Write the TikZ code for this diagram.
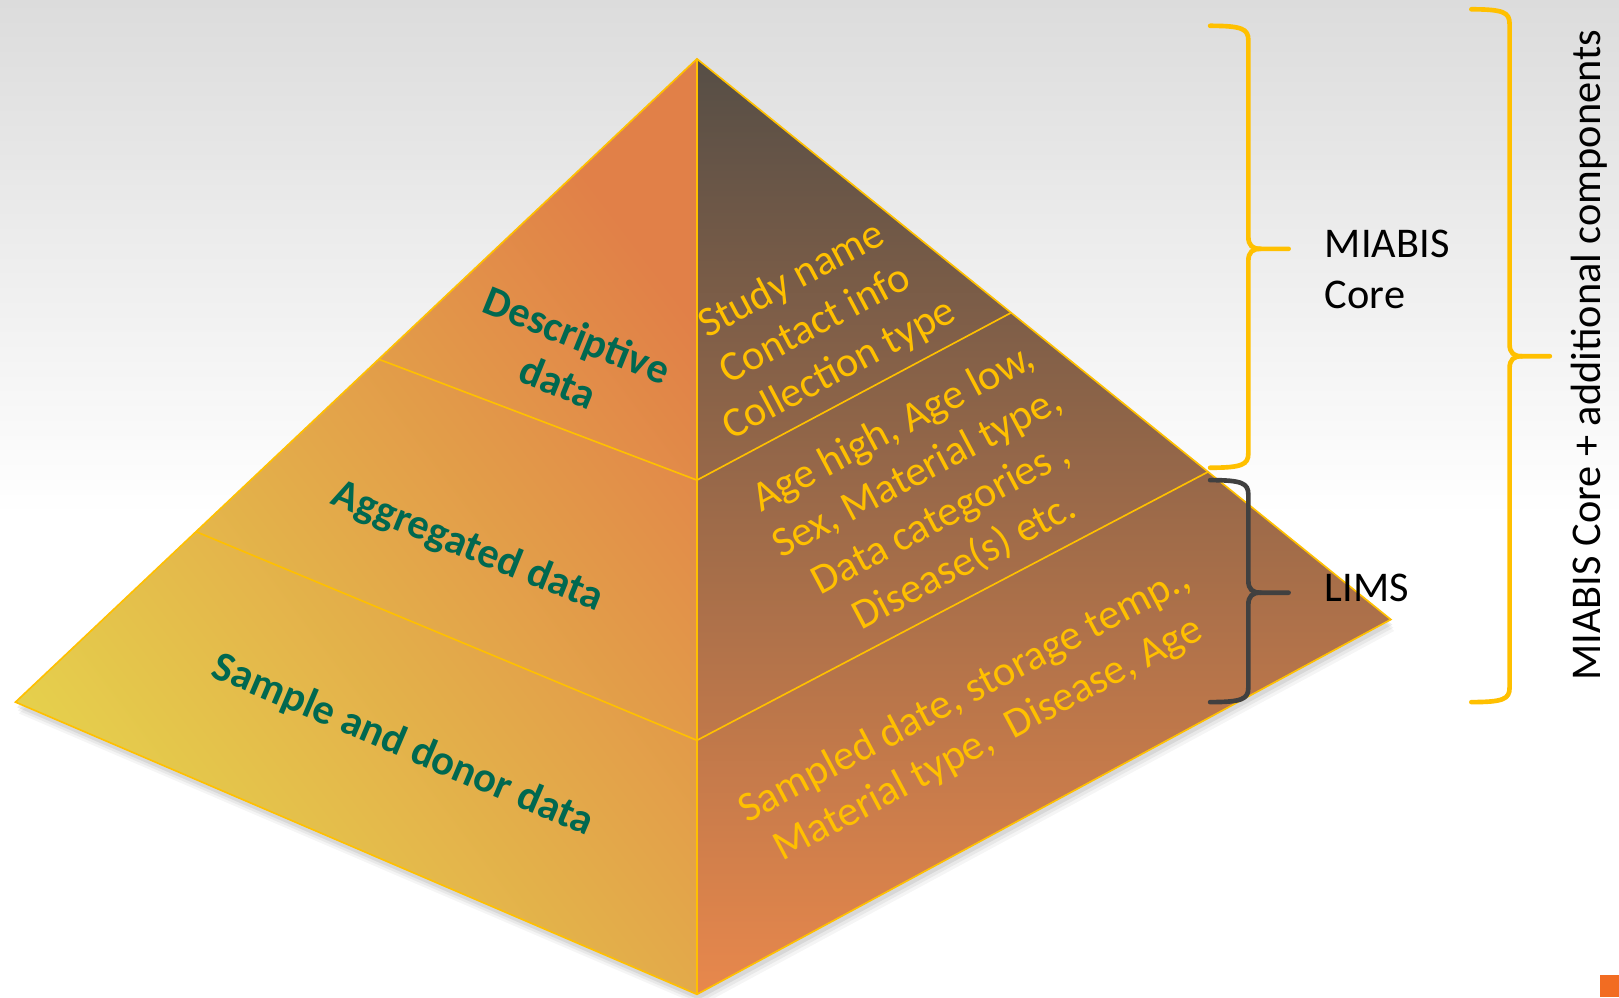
\documentclass[tikz,border=0pt]{standalone}
\usepackage{fontspec}
\setmainfont{Carlito}
\definecolor{mygold}{RGB}{255,192,0}
\definecolor{dkgreen}{RGB}{0,104,80}
\definecolor{leftY}{RGB}{229,210,76}
\definecolor{leftO}{RGB}{225,128,72}
\definecolor{rTop}{RGB}{86,78,70}
\definecolor{rMid}{RGB}{160,110,76}
\definecolor{rBot}{RGB}{232,136,76}
\definecolor{bgtop}{RGB}{220,220,220}
\definecolor{bracegray}{RGB}{64,64,64}
\definecolor{sqorange}{RGB}{242,108,34}
\newcommand{\mybrace}[7]{%
 \draw[#1] (#2,#5) .. controls ({#3-6},#5) and (#3,{#5+3}) .. (#3,{#5+14}) -- (#3,{#6-12}) .. controls (#3,{#6-3}) and ({#3+4},#6) .. ({#3+12},#6) -- (#4,#6);
 \draw[#1] ({#3+12},#6) .. controls ({#3+4},#6) and (#3,{#6+3}) .. (#3,{#6+12}) -- (#3,{#7-14}) .. controls (#3,{#7-3}) and ({#3-6},#7) .. (#2,#7);
}
\begin{document}
\begin{tikzpicture}[x=1pt,y=-1pt,
  edge/.style={draw=mygold, line width=1.6},
  lefttext/.style={font=\fontsize{41}{49}\selectfont\bfseries, text=dkgreen, align=center, inner sep=0},
  facetext/.style={font=\fontsize{41}{49}\selectfont, text=mygold, align=center, inner sep=0},
  sidelabel/.style={font=\fontsize{41}{49}\selectfont, text=black, align=left, inner sep=0},
  goldbrace/.style={draw=mygold, line width=4.5, line cap=round},
  darkbrace/.style={draw=bracegray, line width=4.5, line cap=round}]
\useasboundingbox (0,0) rectangle (1568,966);
% background
\fill[top color=bgtop, bottom color=white] (0,0) rectangle (1568,500);
\fill[white] (0,500) rectangle (1568,966);
% pyramid corners
\coordinate (A) at (675,57);
\coordinate (L) at (15,680);
\coordinate (B) at (675,963);
\coordinate (R) at (1347,600);
\coordinate (L1) at (367,348);
\coordinate (C1) at (675,465);
\coordinate (R1) at (979,303);
\coordinate (L2) at (190,515);
\coordinate (C2) at (675,717);
\coordinate (R2) at (1170,457);
% shadow
\foreach \s/\o in {11/0.04,8/0.05,5/0.07}
  \fill[black,opacity=\o] ({675+0.3*\s},{57+\s}) -- ({15+0.3*\s},{680+\s}) -- ({675+0.3*\s},{963+\s}) -- ({1347+0.3*\s},{600+\s}) -- cycle;
% faces
\fill[left color=leftY, right color=leftO, shading angle=127] (A) -- (L) -- (B) -- cycle;
\fill[top color=rTop, middle color=rMid, bottom color=rBot] (A) -- (B) -- (R) -- cycle;
% edges
\draw[edge] (A) -- (L) -- (B) -- (R) -- cycle;
\draw[edge] (A) -- (B);
\draw[edge] (L1) -- (C1) -- (R1);
\draw[edge] (L2) -- (C2) -- (R2);
% left face labels
\node[lefttext, rotate=-22] (desc) at (550,347) {Descriptive\\data};
\node[lefttext, rotate=-22] (aggr) at (453,530) {Aggregated data};
\node[lefttext, rotate=-23] (samp) at (390,722) {Sample and donor data};
% right face texts
\node[facetext, rotate=28] (core1) at (790,315) {Study name\\Contact info\\Collection type};
\node[facetext, rotate=28] (core2) at (900,480) {Age high, Age low,\\Sex, Material type,\\Data categories ,\\Disease(s) etc.};
\node[facetext, rotate=28] (limsdata) at (946,695) {Sampled date, storage temp.,\\Material type,\ \ Disease, Age};
% braces
\mybrace{goldbrace}{1172}{1209}{1248}{25}{241}{453}
\mybrace{goldbrace}{1425}{1462}{1501}{9}{345}{680}
\mybrace{darkbrace}{1172}{1209}{1248}{465}{574}{680}
% side labels
\node[sidelabel, anchor=west] (miabis) at (1283,261) {MIABIS\\Core};
\node[sidelabel, anchor=base west] (lims) at (1283,583) {LIMS};
\node[sidelabel, rotate=90, anchor=base] (total) at (1550,344) {MIABIS Core + additional components};
% corner mark
\fill[sqorange] (1550,944) rectangle (1568,966);
\end{tikzpicture}
\end{document}
